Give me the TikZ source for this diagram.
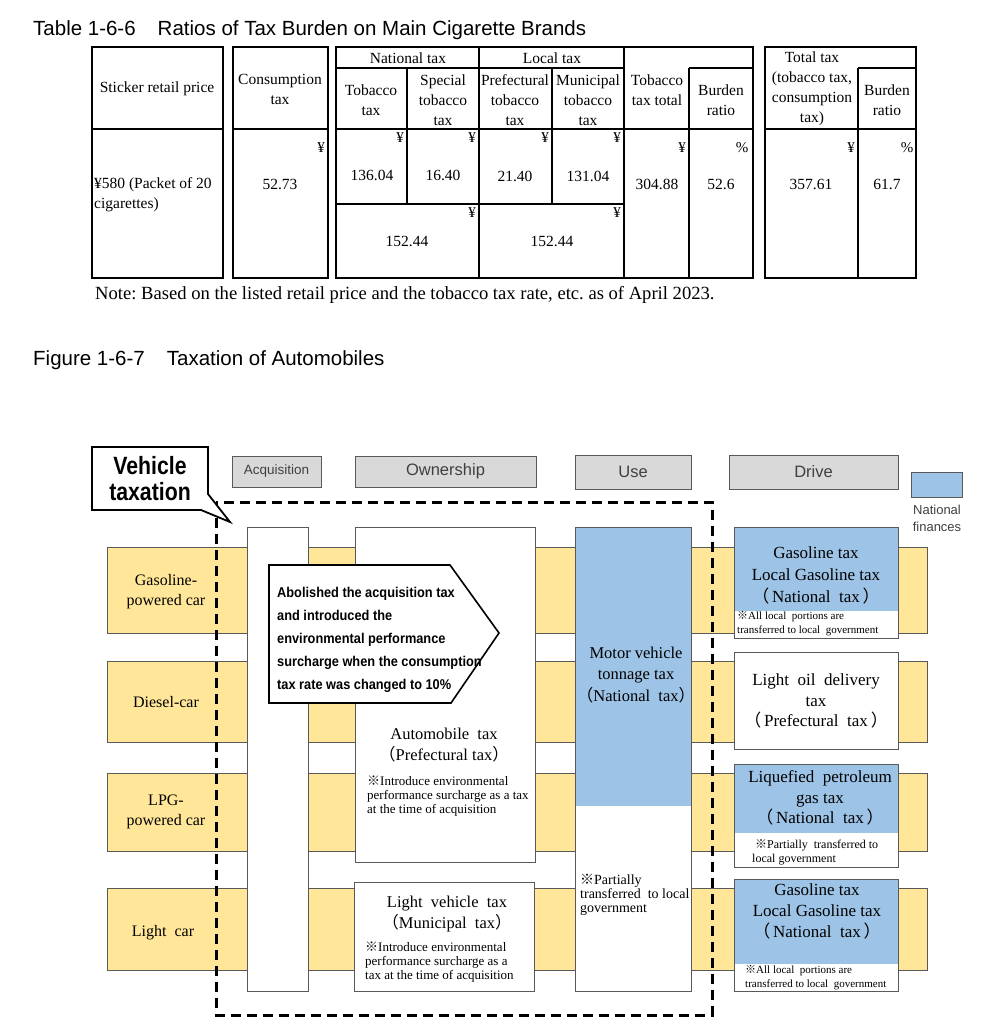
\documentclass[tikz,border=0pt]{standalone}
\usepackage{fontspec}
\setmainfont{Liberation Serif}
\newfontfamily\arialf{Liberation Sans}
\newfontfamily\condf[FakeStretch=0.9]{Liberation Sans}
\newfontfamily\condv[FakeStretch=0.85]{Liberation Sans}
\newfontfamily\cjkf{Noto Sans CJK JP}
\newcommand\kome{{\cjkf ※}}
\newcommand\lp{{\cjkf （}}
\newcommand\rp{{\cjkf ）}}
\newcommand\fs[2]{\fontsize{#1}{#2}\selectfont}
\frenchspacing
\definecolor{yel}{HTML}{FFE699}
\definecolor{blu}{HTML}{9DC3E6}
\definecolor{gry}{HTML}{D9D9D9}
\definecolor{edge}{HTML}{595959}
\definecolor{hdtxt}{HTML}{404040}
\tikzset{
  tline/.style={line width=1.1pt},
  ttext/.style={font=\fs{15.5}{20}, align=center, inner sep=0pt},
  unit/.style={font=\fs{15}{16}, inner sep=0pt},
  band/.style={fill=yel, draw=edge, line width=1pt},
  wbox/.style={fill=white, draw=edge, line width=1pt},
  hdr/.style={fill=gry, draw=edge, line width=1pt},
  hdrtext/.style={font=\arialf\fs{16.5}{20}, text=hdtxt, inner sep=0pt},
  rowlab/.style={font=\fs{16}{20}, align=center, inner sep=0pt},
  big/.style={font=\fs{16.5}{21.5}, align=center, inner sep=0pt},
  notetext/.style={align=left, inner sep=0pt, anchor=north west},
}
\begin{document}
\begin{tikzpicture}[x=1pt,y=-1pt]
\useasboundingbox (0,0) rectangle (988,1024);
\fill[white] (0,0) rectangle (988,1024);

% ---------- Table ----------
\node[anchor=base west, inner sep=0pt, font=\arialf\fs{20.5}{24}] (t1) at (33,36)
  {Table 1-6-6\hspace{22pt}Ratios of Tax Burden on Main Cigarette Brands};

\draw[tline] (92,47) rectangle (223,278) (92,129) -- (223,129);
\draw[tline] (233,47) rectangle (328,278) (233,129) -- (328,129);
\draw[tline] (336,47) rectangle (753,278);
\draw[tline] (336,68) -- (624,68) (479,47) -- (479,278) (624,47) -- (624,278)
  (689,68) -- (689,278) (689,68) -- (753,68) (407,68) -- (407,204)
  (552,68) -- (552,204) (336,129) -- (753,129) (336,204) -- (624,204);
\draw[tline] (765,47) rectangle (916,278) (858,68) -- (858,278) (858,68) -- (916,68)
  (765,129) -- (916,129);

\node[ttext] (h1) at (157,89) {Sticker retail price};
\node[ttext] (h2) at (280,89.5) {Consumption\\tax};
\node[ttext] (h3) at (408,58) {National tax};
\node[ttext] (h4) at (552,58) {Local tax};
\node[ttext] (h5) at (371,100) {Tobacco\\tax};
\node[ttext] (h6) at (443,100) {Special\\tobacco\\tax};
\node[ttext] (h7) at (515,100) {Prefectural\\tobacco\\tax};
\node[ttext] (h8) at (588,100) {Municipal\\tobacco\\tax};
\node[ttext] (h9) at (657,90) {Tobacco\\tax total};
\node[ttext] (h10) at (721,100) {Burden\\ratio};
\node[ttext] (h11) at (812,89) {Total tax\\(tobacco tax,\\consumption\\tax)};
\node[ttext] (h12) at (887,100) {Burden\\ratio};

\node[ttext, align=left, anchor=west] (v1) at (94,195) {¥580 (Packet of 20\\cigarettes)};
\node[ttext] (v2) at (280,184) {52.73};
\node[ttext] (v3) at (372,175) {136.04};
\node[ttext] (v4) at (443,175) {16.40};
\node[ttext] (v5) at (407,241) {152.44};
\node[ttext] (v6) at (515,176) {21.40};
\node[ttext] (v7) at (588,176) {131.04};
\node[ttext] (v8) at (552,241) {152.44};
\node[ttext] (v9) at (657,184) {304.88};
\node[ttext] (v10) at (721,184) {52.6};
\node[ttext] (v11) at (811,184) {357.61};
\node[ttext] (v12) at (887,184) {61.7};

\node[unit] (u1) at (321,148) {¥};
\node[unit] (u2) at (400,138) {¥};
\node[unit] (u3) at (472,138) {¥};
\node[unit] (u4) at (472,213) {¥};
\node[unit] (u5) at (545,138) {¥};
\node[unit] (u6) at (617,138) {¥};
\node[unit] (u7) at (617,213) {¥};
\node[unit] (u8) at (682,148) {¥};
\node[unit] (u9) at (742,148) {\%};
\node[unit] (u10) at (851,148) {¥};
\node[unit] (u11) at (907,148) {\%};

\node[anchor=base west, inner sep=0pt, font=\fs{18.6}{20}] (note) at (95,299)
  {Note: Based on the listed retail price and the tobacco tax rate, etc. as of April 2023.};

% ---------- Figure ----------
\node[anchor=base west, inner sep=0pt, font=\arialf\fs{20.5}{24}] (t2) at (33,365)
  {Figure 1-6-7\hspace{22pt}Taxation of Automobiles};

% header boxes
\draw[hdr] (232,456) rectangle (321,487);
\node[hdrtext, font=\arialf\fs{13.5}{16}] (hA) at (276.5,471.5) {Acquisition};
\draw[hdr] (355,456) rectangle (536,487);
\node[hdrtext] (hO) at (445.5,471.5) {Ownership};
\draw[hdr] (575,455) rectangle (691,489);
\node[hdrtext] (hU) at (633,472) {Use};
\draw[hdr] (729,455) rectangle (898,489);
\node[hdrtext] (hD) at (813.5,472) {Drive};

% legend
\draw[fill=blu, draw=edge, line width=1pt] (911,472) rectangle (962,497);
\node[font=\arialf\fs{13}{17}, text=hdtxt, align=center, inner sep=0pt] (leg) at (937,518) {National\\finances};

% yellow bands
\draw[band] (107,547) rectangle (927,633);
\draw[band] (107,661) rectangle (927,742);
\draw[band] (107,773) rectangle (927,851);
\draw[band] (107,888) rectangle (927,970);

\node[rowlab] (r1) at (166,592) {Gasoline-\\powered car};
\node[rowlab] (r2) at (166,702) {Diesel-car};
\node[rowlab] (r3) at (166,812) {LPG-\\powered car};
\node[rowlab] (r4) at (163,933) {Light\ \ car};

% acquisition column
\draw[wbox] (247,527) rectangle (308,991);

% ownership boxes
\draw[wbox] (355,527) rectangle (535,862);
\node[big] (own1) at (444,745) {Automobile\ \ tax\\\lp Prefectural tax\rp};
\node[notetext, font=\fs{13}{14}] (own1n) at (367,776)
  {\kome Introduce environmental\\performance surcharge as a tax\\at the time of acquisition};
\draw[wbox] (354,882) rectangle (534,991);
\node[big] (own2) at (447,914) {Light\ \ vehicle\ \ tax\\\lp Municipal\ \ tax\rp};
\node[notetext, font=\fs{13}{14}] (own2n) at (365,942)
  {\kome Introduce environmental\\performance surcharge as a\\tax at the time of acquisition};

% use column
\fill[blu] (575,527) rectangle (691,806);
\fill[white] (575,806) rectangle (691,991);
\draw[draw=edge, line width=1pt] (575,527) rectangle (691,991);
\node[big] (use1) at (636,675) {Motor vehicle\\tonnage tax\\\lp National\ \ tax\rp};
\node[notetext, font=\fs{14}{14}] (use1n) at (580,874)
  {\kome Partially\\transferred\ \ to local\\government};

% drive boxes
\fill[blu] (734,527) rectangle (898,611);
\fill[white] (734,611) rectangle (898,638);
\draw[draw=edge, line width=1pt] (734,527) rectangle (898,638);
\node[big, font=\fs{17}{22}] (d1) at (816,575) {Gasoline tax\\Local Gasoline tax\\\lp\,National\ \ tax\,\rp};
\node[notetext, font=\fs{11}{14}] (d1n) at (737,611)
  {\kome All local\ \ portions are\\transferred to local\ \ government};

\draw[wbox] (734,652) rectangle (898,749);
\node[big, font=\fs{17}{20.5}] (d2) at (816,701) {Light\ \ oil\ \ delivery\\tax\\\lp\,Prefectural\ \ tax\,\rp};

\fill[blu] (734,764) rectangle (898,833);
\fill[white] (734,833) rectangle (898,867);
\draw[draw=edge, line width=1pt] (734,764) rectangle (898,867);
\node[big, font=\fs{17}{20.5}] (d3) at (820,798) {Liquefied\ \ petroleum\\gas tax\\\lp\,National\ \ tax\,\rp};
\node[notetext, font=\fs{12}{14}] (d3n) at (752,839)
  {\ \kome Partially\ \ transferred to\\local government};

\fill[blu] (734,879) rectangle (898,964);
\fill[white] (734,964) rectangle (898,991);
\draw[draw=edge, line width=1pt] (734,879) rectangle (898,991);
\node[big, font=\fs{17}{21}] (d4) at (817,911) {Gasoline tax\\Local Gasoline tax\\\lp\,National\ \ tax\,\rp};
\node[notetext, font=\fs{11}{14.5}] (d4n) at (745,965)
  {\kome All local\ \ portions are\\transferred to local\ \ government};

% dashed frame
\draw[line width=3pt, dash pattern=on 10pt off 6pt] (216,502) rectangle (712,1015);

% arrow-shaped callout
\draw[fill=white, line width=1.6pt, line join=miter] (269,565) -- (450,565) -- (499,633) -- (451,703) -- (269,703) -- cycle;
\foreach \t [count=\i] in {Abolished the acquisition tax, and introduced the, environmental performance, surcharge when the consumption, tax rate was changed to 10\%}
  \node[anchor=base west, inner sep=0pt, font=\condf\bfseries\fs{14.2}{16}] (cl\i) at (277,574+23*\i) {\t};

% Vehicle taxation label
\draw[fill=white, line width=1.8pt, line join=miter] (92,447) -- (208,447) -- (208,494) -- (230,522) -- (201,510) -- (92,510) -- cycle;
\node[font=\condv\bfseries\fs{25}{26}, align=center, inner sep=0pt] (vt) at (150,479) {Vehicle\\taxation};
\end{tikzpicture}
\end{document}
